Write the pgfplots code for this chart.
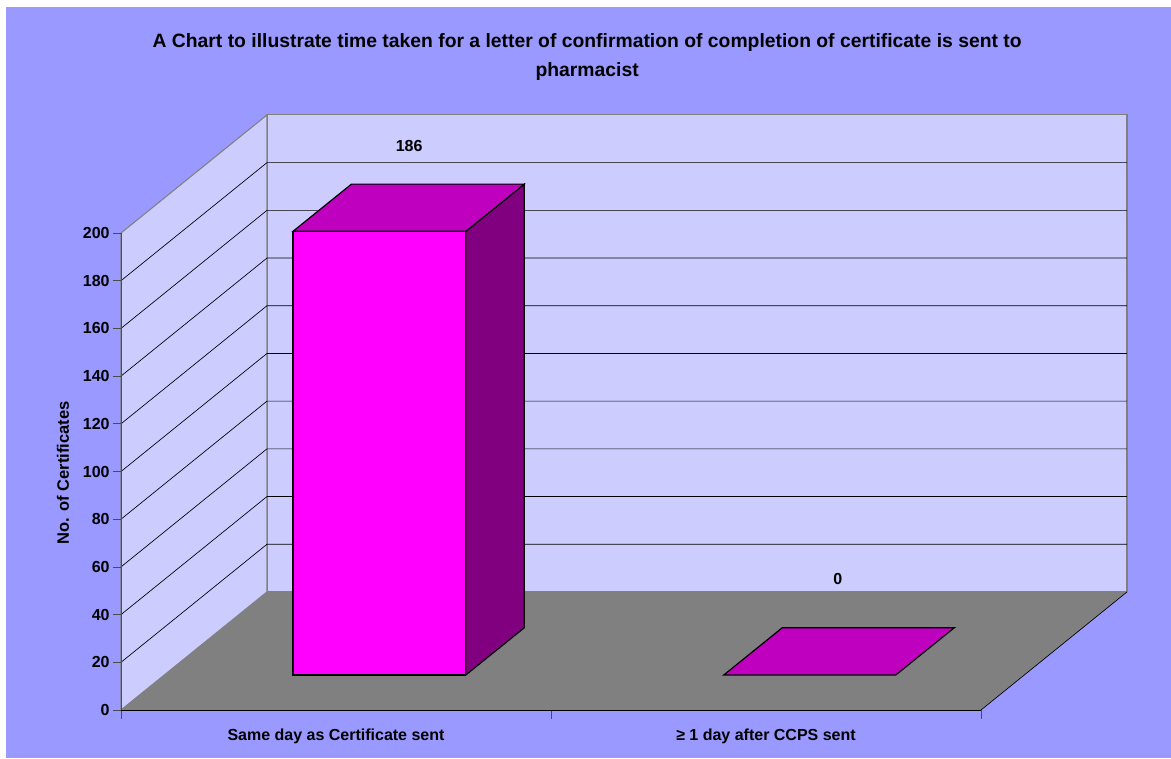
\documentclass[border=0pt]{standalone}
\usepackage{pgfplots}
\pgfplotsset{compat=1.18}
\usepackage{fontspec}
\setmainfont{Liberation Sans}
\definecolor{chartbg}{RGB}{153,153,255}
\definecolor{wall}{RGB}{204,204,255}
\definecolor{floorc}{RGB}{128,128,128}
\definecolor{barfront}{RGB}{255,0,255}
\definecolor{bartop}{RGB}{191,0,191}
\definecolor{barside}{RGB}{128,0,128}
\begin{document}
\begin{tikzpicture}
\useasboundingbox (0,0) rectangle (878.25pt,568.5pt);
\fill[chartbg] (4.5pt,0) rectangle (878.25pt,563.25pt);
\begin{axis}[
  at={(90.75pt,36pt)}, anchor=south west,
  scale only axis, width=645pt, height=357.75pt,
  xmin=0, xmax=2, ymin=0, ymax=200, clip=false,
  axis x line=bottom, axis y line=left, axis line style={-, line width=0.7pt},
  y axis line style={black!70},
  xtick={0.5,1.5},
  xticklabels={Same day as Certificate sent, {≥ 1 day after CCPS sent}},
  minor xtick={0,1,2},
  ytick={0,20,...,200},
  tick align=outside,
  major tick length=6pt, minor tick length=6.5pt,
  x tick style={draw=none},
  minor x tick style={draw=black!70, line width=0.6pt},
  y tick style={draw=black!70, line width=0.6pt},
  tick label style={font=\fontsize{12}{14}\selectfont\bfseries},
  /pgf/number format/assume math mode=true,
  xticklabel style={yshift=-5pt},
  yticklabel style={xshift=1pt},
  ylabel={No. of Certificates},
  ylabel style={at={(axis description cs:-0.0675,0.497)}, anchor=center, font=\fontsize{12.4}{14}\selectfont\bfseries},
  title={A Chart to illustrate time taken for a letter of confirmation of completion of certificate is sent to\\pharmacist},
  title style={at={(axis description cs:0.542,1.352)}, anchor=center, align=center, font=\fontsize{14.5}{21.75}\selectfont\bfseries},
  axis on top,
]
% walls and floor
\addplot[fill=wall, draw=floorc, line width=0.8pt] coordinates {(0.3395,49.5) (2.3395,49.5) (2.3395,249.5) (0.3395,249.5)} -- cycle;
\addplot[fill=wall, draw=floorc, line width=0.8pt] coordinates {(0,0) (0.3395,49.5) (0.3395,249.5) (0,200)} -- cycle;
\addplot[fill=floorc, draw=none] coordinates {(0,0) (2,0) (2.3395,49.5) (0.3395,49.5)} -- cycle;
\addplot[black, line width=0.5pt] coordinates {(2,0) (2.3395,49.5)};
% gridlines
\addplot[black, line width=0.5pt] coordinates {(0,20) (0.3395,69.5) (2.3395,69.5)};
\addplot[black, line width=0.5pt] coordinates {(0,40) (0.3395,89.5) (2.3395,89.5)};
\addplot[black, line width=0.5pt] coordinates {(0,60) (0.3395,109.5) (2.3395,109.5)};
\addplot[black, line width=0.5pt] coordinates {(0,80) (0.3395,129.5) (2.3395,129.5)};
\addplot[black, line width=0.5pt] coordinates {(0,100) (0.3395,149.5) (2.3395,149.5)};
\addplot[black, line width=0.5pt] coordinates {(0,120) (0.3395,169.5) (2.3395,169.5)};
\addplot[black, line width=0.5pt] coordinates {(0,140) (0.3395,189.5) (2.3395,189.5)};
\addplot[black, line width=0.5pt] coordinates {(0,160) (0.3395,209.5) (2.3395,209.5)};
\addplot[black, line width=0.5pt] coordinates {(0,180) (0.3395,229.5) (2.3395,229.5)};
% bar 1, value 186
\addplot[fill=barfront, draw=black, line width=0.9pt] coordinates {(0.4,14.7) (0.802,14.7) (0.802,200.7) (0.4,200.7)} -- cycle;
\addplot[fill=barside, draw=black, line width=0.9pt] coordinates {(0.802,14.7) (0.938,34.5) (0.938,220.5) (0.802,200.7)} -- cycle;
\addplot[fill=bartop, draw=black, line width=0.9pt] coordinates {(0.4,200.7) (0.802,200.7) (0.938,220.5) (0.536,220.5)} -- cycle;
% bar 2, value 0
\addplot[fill=bartop, draw=black, line width=0.9pt] coordinates {(1.402,14.7) (1.802,14.7) (1.938,34.5) (1.538,34.5)} -- cycle;
\node[font=\fontsize{12}{14}\selectfont\bfseries] at (axis cs:0.67,236.5) {186};
\node[font=\fontsize{12}{14}\selectfont\bfseries] at (axis cs:1.667,54.9) {0};
\end{axis}
\end{tikzpicture}
\end{document}
